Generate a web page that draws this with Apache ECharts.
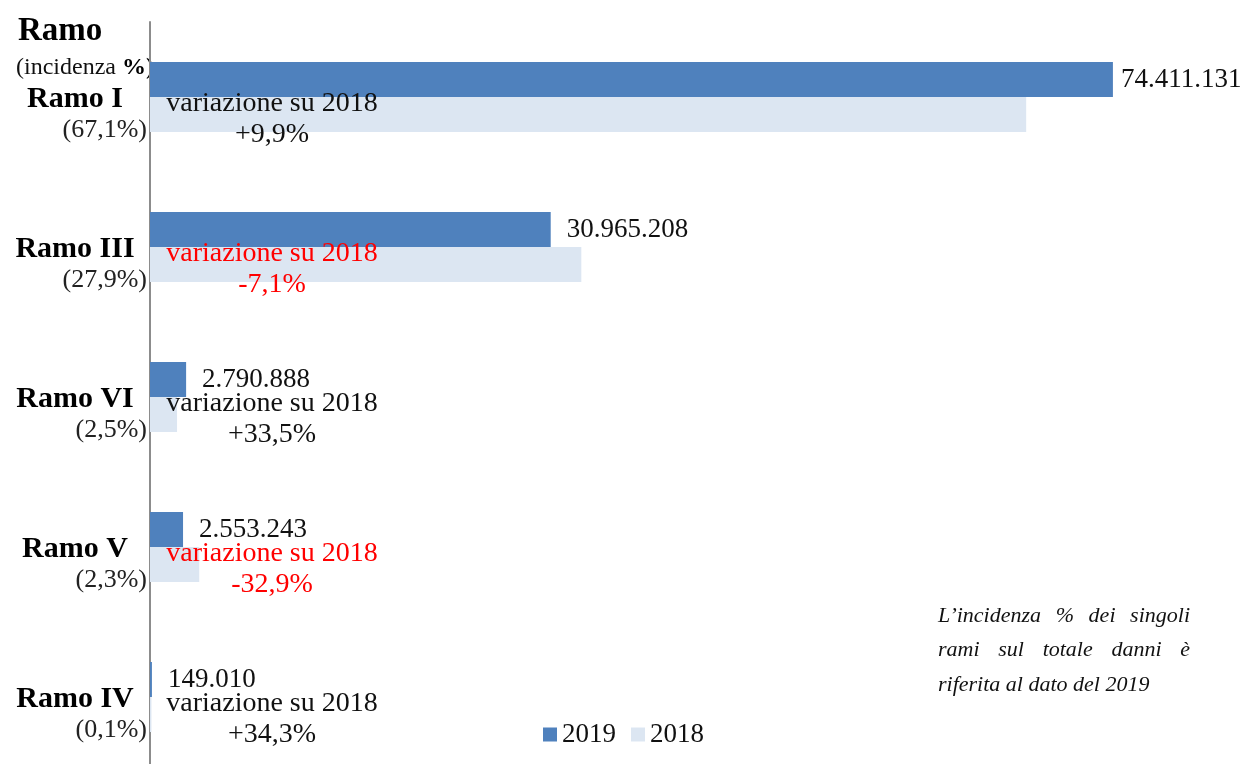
<!DOCTYPE html>
<html>
<head>
<meta charset="utf-8">
<script src="https://cdn.jsdelivr.net/npm/echarts@6/dist/echarts.min.js"></script>
<style>html,body{margin:0;padding:0;background:#fff}#c{width:1244px;height:764px}</style>
</head>
<body>
<div id="c"></div>
<script>
const categories = ['Ramo I', 'Ramo III', 'Ramo VI', 'Ramo V', 'Ramo IV'];
const shares = ['(67,1%)', '(27,9%)', '(2,5%)', '(2,3%)', '(0,1%)'];
const values2019 = [74411131, 30965208, 2790888, 2553243, 149010];
const values2018 = [67708000, 33331000, 2090000, 3805000, 111000];
const variations = ['+9,9%', '-7,1%', '+33,5%', '-32,9%', '+34,3%'];
const seriesNames = ['2019', '2018'];
const noteLines = ['L\u2019incidenza % dei singoli', 'rami sul totale danni \u00e8', 'riferita al dato del 2019'];

const FONT = '"Liberation Serif", "DejaVu Serif", serif';
const C2019 = '#4F81BD';
const C2018 = '#DCE6F2';

function fmtIt(n) {
  return String(n).replace(/\B(?=(\d{3})+(?!\d))/g, '.');
}

const chart = echarts.init(document.getElementById('c'), null, {renderer: 'canvas'});

const data2019 = values2019.map((v, i) => ({
  value: v,
  label: {distance: i === 0 ? 8 : 16}
}));
const data2018 = values2018.map((v, i) => {
  const neg = variations[i].charAt(0) === '-';
  return {
    value: v,
    label: {color: neg ? '#FF0000' : '#111111'}
  };
});

// justified note text, built word by word
const NOTE_FONT = 'italic 22px ' + FONT;
const noteLeft = 938, noteWidth = 252, noteTops = [605, 639, 674];
const mctx = document.createElement('canvas').getContext('2d');
mctx.font = NOTE_FONT;
const noteGraphics = [];
noteLines.forEach((line, li) => {
  const words = line.split(' ');
  const last = li === noteLines.length - 1;
  if (last) {
    noteGraphics.push({type: 'text', left: noteLeft, top: noteTops[li], style: {text: line, font: NOTE_FONT, fill: '#111'}});
    return;
  }
  const widths = words.map(w => mctx.measureText(w).width);
  const total = widths.reduce((a, b) => a + b, 0);
  const gap = (noteWidth - total) / (words.length - 1);
  let x = noteLeft;
  words.forEach((w, wi) => {
    noteGraphics.push({type: 'text', x: x, y: noteTops[li], style: {text: w, font: NOTE_FONT, fill: '#111'}});
    x += widths[wi] + gap;
  });
});

chart.setOption({
  animation: false,
  backgroundColor: '#ffffff',
  textStyle: {fontFamily: FONT},
  grid: {left: 150, top: 22, width: 1087, height: 750, containLabel: false, outerBoundsMode: 'none'},
  xAxis: {
    type: 'value', min: 0, max: 84000000, show: false
  },
  yAxis: {
    type: 'category',
    inverse: true,
    data: categories,
    axisLine: {show: true, lineStyle: {color: '#8c8c8c', width: 2}},
    axisTick: {show: false},
    axisLabel: {
      margin: 3,
      fontFamily: FONT,
      padding: [36, 0, 0, 0],
      formatter: function (val, idx) {
        return '{n|' + val + '}\n{p|' + shares[idx] + '}';
      },
      rich: {
        n: {fontFamily: FONT, fontSize: 30, fontWeight: 'bold', color: '#000', width: 144, align: 'center', lineHeight: 31},
        p: {fontFamily: FONT, fontSize: 26, color: '#222', align: 'right', lineHeight: 31}
      }
    }
  },
  legend: {
    left: 538, top: 716,
    itemWidth: 14, itemHeight: 14, itemGap: 15,
    icon: 'rect',
    textStyle: {fontFamily: FONT, fontSize: 27, color: '#111'},
    data: seriesNames
  },
  series: [
    {
      name: seriesNames[0], type: 'bar', barWidth: 35, barGap: '0%',
      itemStyle: {color: C2019},
      label: {
        show: true, position: 'right', fontFamily: FONT, fontSize: 27, color: '#111',
        formatter: p => fmtIt(p.value)
      },
      data: data2019
    },
    {
      name: seriesNames[1], type: 'bar', barWidth: 35, barGap: '0%', z: 3,
      itemStyle: {color: C2018},
      label: {
        show: true, position: [122, 22], align: 'center', verticalAlign: 'middle',
        fontFamily: FONT, fontSize: 28, lineHeight: 31,
        formatter: p => 'variazione su 2018\n' + variations[p.dataIndex]
      },
      data: data2018
    }
  ],
  graphic: [
    {type: 'text', left: 18, top: 15, style: {text: 'Ramo', font: 'bold 33px ' + FONT, fill: '#000'}},
    {type: 'text', left: 16, top: 56, style: {
      text: '{a|(incidenza }{b|%)}',
      rich: {a: {fontFamily: FONT, fontSize: 24, fill: '#111'}, b: {fontFamily: FONT, fontSize: 24, fontWeight: 'bold', fill: '#000'}}
    }}
  ].concat(noteGraphics)
});
</script>
</body>
</html>
